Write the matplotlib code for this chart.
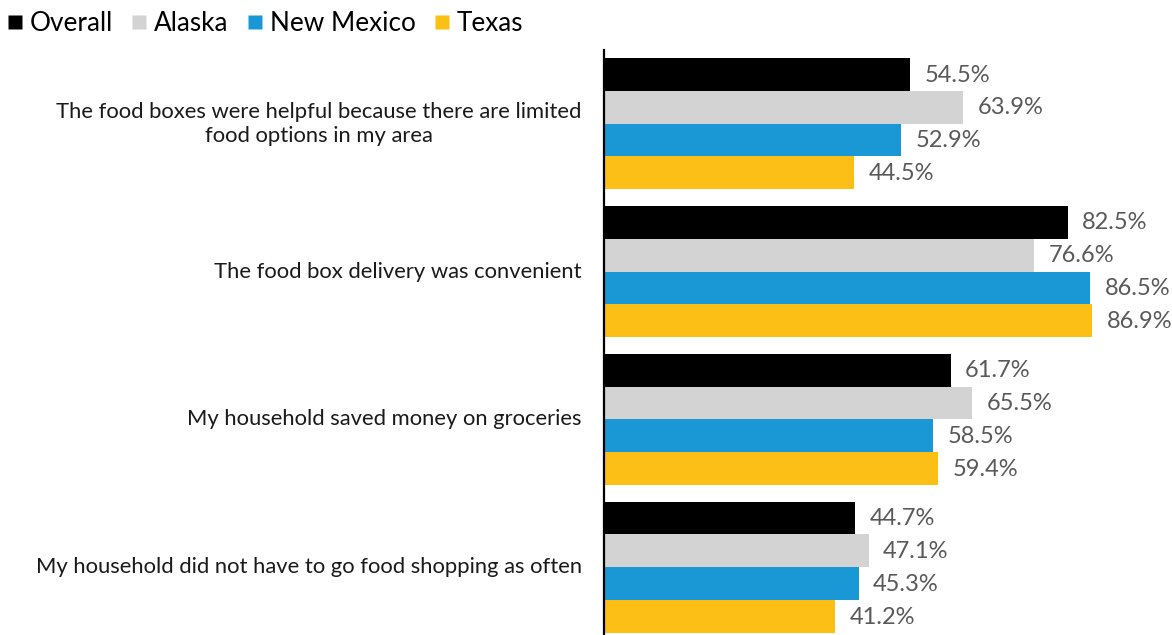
import matplotlib

matplotlib.use("Agg")
import matplotlib.pyplot as plt
from matplotlib.lines import Line2D
import numpy as np

plt.rcParams["font.family"] = ["Lato", "DejaVu Sans"]

statements = [
    "The food boxes were helpful because there are limited\nfood options in my area",
    "The food box delivery was convenient",
    "My household saved money on groceries",
    "My household did not have to go food shopping as often",
]
series_names = ["Overall", "Alaska", "New Mexico", "Texas"]
overall = [54.5, 82.5, 61.7, 44.7]
alaska = [63.9, 76.6, 65.5, 47.1]
new_mexico = [52.9, 86.5, 58.5, 45.3]
texas = [44.5, 86.9, 59.4, 41.2]
colors = ["#000000", "#d3d3d3", "#1a98d5", "#fcbf15"]

GROUP_STEP = 4.5  # bar units between group starts (4 bars + gap)

fig = plt.figure(figsize=(11.72, 6.35), dpi=100)
ax = fig.add_axes([604 / 1172, 0, 1 - 604 / 1172, (635 - 50) / 635])

group_pos = np.arange(len(statements)) * GROUP_STEP
for k, (vals, col) in enumerate(zip([overall, alaska, new_mexico, texas], colors)):
    y = group_pos + k + 0.5
    ax.barh(y, vals, height=1.0, color=col, edgecolor="none")
    for yy, v in zip(y, vals):
        ax.annotate(f"{v:.1f}%", (v, yy), xytext=(10.5, -0.5), textcoords="offset points",
                    ha="left", va="center", fontsize=17, color="#595959")

ax.set_xlim(0, 101.1)
ax.set_ylim(group_pos[-1] + 4 + 0.06, -0.24)

centers = group_pos + 2
for c, s in zip(centers, statements):
    ax.annotate(s, (0, c), xytext=(-16, 0), textcoords="offset points",
                ha="right", va="center", multialignment="center",
                fontsize=15.8, color="#1a1a1a", linespacing=1.25)

ax.set_xticks([])
ax.set_yticks([])
for side in ("top", "right", "bottom"):
    ax.spines[side].set_visible(False)
ax.spines["left"].set_linewidth(1.6)
ax.spines["left"].set_color("#000000")

handles = [Line2D([], [], marker="s", linestyle="none", markersize=9.6,
                  markerfacecolor=c, markeredgecolor="none") for c in colors]
fig.legend(handles, series_names, loc="upper left", bbox_to_anchor=(0.0, 0.995),
           ncol=4, frameon=False, fontsize=18.8, handletextpad=0.3,
           columnspacing=0.72, handlelength=0.55, borderaxespad=0.2, borderpad=0.1)

fig.savefig("out.png", dpi=100)
